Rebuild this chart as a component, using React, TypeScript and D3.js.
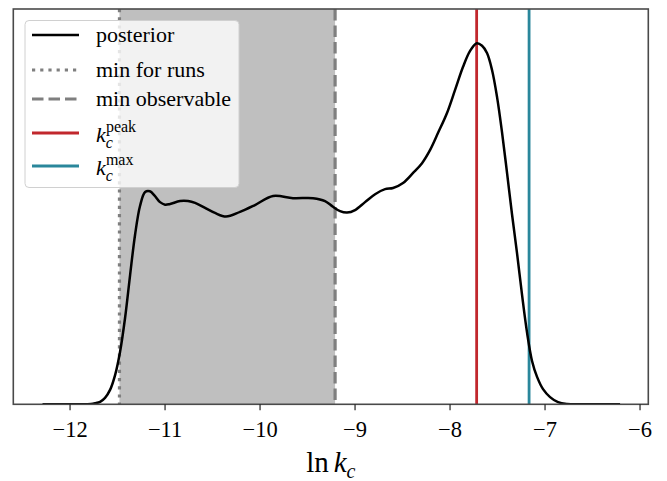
import React from "react";
import * as d3 from "d3";

const lnK = [-12.29, -11.9, -11.78, -11.737, -11.684, -11.632, -11.579, -11.526, -11.474, -11.421, -11.368, -11.316, -11.263, -11.21, -11.16, -11.11, -11.053, -11.0, -10.947, -10.842, -10.758, -10.684, -10.579, -10.474, -10.358, -10.211, -10.053, -9.863, -9.653, -9.442, -9.316, -9.232, -9.158, -9.084, -9.0, -8.895, -8.789, -8.684, -8.6, -8.495, -8.389, -8.295, -8.211, -8.126, -8.032, -7.947, -7.863, -7.789, -7.719, -7.663, -7.611, -7.558, -7.505, -7.453, -7.4, -7.347, -7.295, -7.242, -7.189, -7.137, -7.084, -7.021, -6.947, -6.863, -6.768, -6.632, -6.21];
const density = [0, 0, 0.001, 0.003, 0.007, 0.018, 0.04, 0.081, 0.145, 0.239, 0.358, 0.469, 0.55, 0.588, 0.59, 0.578, 0.56, 0.553, 0.555, 0.563, 0.563, 0.558, 0.544, 0.53, 0.52, 0.533, 0.552, 0.577, 0.571, 0.571, 0.563, 0.547, 0.535, 0.531, 0.538, 0.56, 0.582, 0.596, 0.599, 0.613, 0.641, 0.668, 0.704, 0.752, 0.807, 0.871, 0.935, 0.979, 1.0, 0.993, 0.973, 0.926, 0.851, 0.754, 0.641, 0.525, 0.419, 0.303, 0.198, 0.12, 0.076, 0.042, 0.02, 0.006, 0.001, 0, 0];

const xTicks = [-12, -11, -10, -9, -8, -7, -6];
const minForRuns = -11.48;
const minObservable = -9.21;
const kPeak = -7.72;
const kMax = -7.168;

const W = 667;
const H = 481;
const left = 13.3;
const right = 648.3;
const top = 9;
const bottom = 404.3;
const FONT = "'Liberation Serif', 'DejaVu Serif', serif";

export default function App() {
  const x = d3.scaleLinear().domain([-12.5975, -5.913]).range([left, right]);
  const y = d3.scaleLinear().domain([0, 1.095]).range([bottom, top]);
  const pts = lnK.map((v, i) => [v, density[i]] as [number, number]);
  const line = d3
    .line<[number, number]>()
    .x((d) => x(d[0]))
    .y((d) => y(d[1]))
    .curve(d3.curveCatmullRom.alpha(0.5));

  const legendRows = [35, 70, 99, 133, 166];
  const hx0 = 32;
  const hx1 = 79;
  const tx = 96;

  return (
    <svg width={W} height={H} style={{ position: "absolute", left: 0, top: 0 }}>
      <rect x={0} y={0} width={W} height={H} fill="#fff" />
      <defs>
        <clipPath id="plotclip">
          <rect x={left} y={top} width={right - left} height={bottom - top} />
        </clipPath>
      </defs>
      <g clipPath="url(#plotclip)">
        <rect
          x={x(minForRuns)}
          y={top}
          width={x(minObservable) - x(minForRuns)}
          height={bottom - top}
          fill="#bfbfbf"
        />
        <line x1={x(minForRuns)} x2={x(minForRuns)} y1={top} y2={bottom} stroke="#7f7f7f" strokeWidth={3.2} strokeDasharray="3.2 5" />
        <line x1={x(minObservable)} x2={x(minObservable)} y1={top} y2={bottom} stroke="#7f7f7f" strokeWidth={3.2} strokeDasharray="11.5 5" />
        <line x1={x(kPeak)} x2={x(kPeak)} y1={top} y2={bottom} stroke="#c1272d" strokeWidth={2.8} />
        <line x1={x(kMax)} x2={x(kMax)} y1={top} y2={bottom} stroke="#2a879b" strokeWidth={2.8} />
        <path d={line(pts) || ""} fill="none" stroke="#000" strokeWidth={2.5} strokeLinejoin="round" />
      </g>
      <rect x={left} y={top} width={right - left} height={bottom - top} fill="none" stroke="#4a4a4a" strokeWidth={1.6} />
      {xTicks.map((t) => (
        <g key={t}>
          <line x1={x(t)} x2={x(t)} y1={bottom} y2={bottom + 6} stroke="#222" strokeWidth={1.2} />
          <text x={x(t)} y={437} textAnchor="middle" fontFamily={FONT} fontSize={22.5} fill="#000">
            {t < 0 ? "\u2212" + Math.abs(t) : String(t)}
          </text>
        </g>
      ))}
      <text x={(left + right) / 2} y={472} textAnchor="middle" fontFamily={FONT} fontSize={29} fill="#000">
        <tspan>ln</tspan>
        <tspan dx={5} fontStyle="italic">k</tspan>
        <tspan fontStyle="italic" fontSize={20} dy={6}>c</tspan>
      </text>

      <g>
        <rect x={25} y={20.5} width={214} height={167} rx={4} ry={4} fill="#fff" fillOpacity={0.8} stroke="#d0d0d0" strokeWidth={1} />
        <line x1={hx0} x2={hx1} y1={legendRows[0]} y2={legendRows[0]} stroke="#000" strokeWidth={2.5} />
        <line x1={hx0} x2={hx1} y1={legendRows[1]} y2={legendRows[1]} stroke="#7f7f7f" strokeWidth={3.2} strokeDasharray="3.2 5" />
        <line x1={hx0} x2={hx1} y1={legendRows[2]} y2={legendRows[2]} stroke="#7f7f7f" strokeWidth={3.2} strokeDasharray="11.5 5" />
        <line x1={hx0} x2={hx1} y1={legendRows[3]} y2={legendRows[3]} stroke="#c1272d" strokeWidth={2.8} />
        <line x1={hx0} x2={hx1} y1={legendRows[4]} y2={legendRows[4]} stroke="#2a879b" strokeWidth={2.8} />
        <text x={tx} y={legendRows[0] + 7} fontFamily={FONT} fontSize={22}>posterior</text>
        <text x={tx} y={legendRows[1] + 7} fontFamily={FONT} fontSize={22}>min for runs</text>
        <text x={tx} y={legendRows[2] + 7} fontFamily={FONT} fontSize={22}>min observable</text>
        <text x={tx} y={legendRows[3] + 9} fontFamily={FONT} fontSize={22}>
          <tspan fontStyle="italic">k</tspan>
          <tspan fontStyle="italic" fontSize={16} dy={6}>c</tspan>
          <tspan fontSize={16} dx={-7} dy={-16}>peak</tspan>
        </text>
        <text x={tx} y={legendRows[4] + 9} fontFamily={FONT} fontSize={22}>
          <tspan fontStyle="italic">k</tspan>
          <tspan fontStyle="italic" fontSize={16} dy={6}>c</tspan>
          <tspan fontSize={16} dx={-7} dy={-16}>max</tspan>
        </text>
      </g>
    </svg>
  );
}
